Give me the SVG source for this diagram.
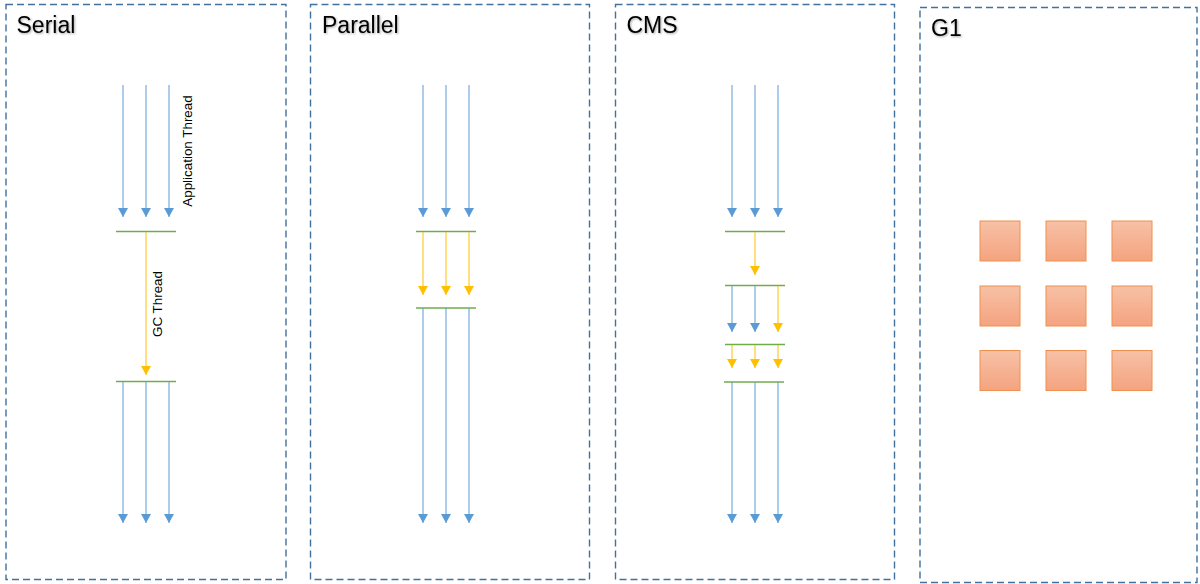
<svg xmlns="http://www.w3.org/2000/svg" width="1200" height="584" viewBox="0 0 1200 584">
<style>
.panel{fill:#fff;stroke:#41719c;stroke-width:1.4;stroke-dasharray:7 4}
.title{font-family:"Liberation Sans",Arial,sans-serif;font-size:23px;fill:#000}
.lbl{font-family:"Liberation Sans",Arial,sans-serif;font-size:13.4px;fill:#000}
.app{stroke:#5b9bd5;stroke-width:1;fill:none;marker-end:url(#ab)}
.gc{stroke:#ffc000;stroke-width:1;fill:none;marker-end:url(#ay)}
.bar{stroke:#70ad47;stroke-width:1.5}
.reg{fill:url(#rg);stroke:#f0904f;stroke-width:1}
</style>
<defs>
<marker id="ab" markerUnits="userSpaceOnUse" markerWidth="11" markerHeight="11" viewBox="0 0 11 11" refX="9" refY="5.5" orient="auto">
<path d="M0,0.5 L9,5.5 L0,10.5 Z" fill="#5b9bd5"/>
</marker>
<marker id="ay" markerUnits="userSpaceOnUse" markerWidth="11" markerHeight="11" viewBox="0 0 11 11" refX="9" refY="5.5" orient="auto">
<path d="M0,0.5 L9,5.5 L0,10.5 Z" fill="#ffc000"/>
</marker>
<linearGradient id="rg" x1="0" y1="0" x2="0" y2="1">
<stop offset="0" stop-color="#f7c1a6"/>
<stop offset="1" stop-color="#f4a37f"/>
</linearGradient>
<filter id="sh" x="-10%" y="-20%" width="130%" height="150%">
<feDropShadow dx="1" dy="1" stdDeviation="0.8" flood-color="#000" flood-opacity="0.35"/>
</filter>
</defs>

<g id="serial">
<rect class="panel" x="6" y="4.5" width="280" height="575"/>
<text class="title" x="16.5" y="32.5" filter="url(#sh)">Serial</text>
</g>
<g id="parallel">
<rect class="panel" x="310.5" y="4.5" width="279" height="575"/>
<text class="title" x="322" y="32.5" filter="url(#sh)">Parallel</text>
</g>
<g id="cms">
<rect class="panel" x="615.5" y="4.5" width="279" height="575"/>
<text class="title" x="626.5" y="32.5" filter="url(#sh)">CMS</text>
</g>
<g id="g1">
<rect class="panel" x="920" y="7.5" width="277" height="575"/>
<text class="title" x="931" y="35.5" filter="url(#sh)">G1</text>
</g>

<g id="connectors">
<!-- Serial -->
<line class="app" x1="123" y1="85" x2="123" y2="217"/>
<line class="app" x1="146" y1="85" x2="146" y2="217"/>
<line class="app" x1="169" y1="85" x2="169" y2="217"/>
<line class="bar" x1="116" y1="231.5" x2="176" y2="231.5"/>
<line class="gc" x1="146" y1="232" x2="146" y2="375"/>
<line class="bar" x1="116" y1="381.5" x2="176" y2="381.5"/>
<line class="app" x1="123" y1="382" x2="123" y2="523"/>
<line class="app" x1="146" y1="382" x2="146" y2="523"/>
<line class="app" x1="169" y1="382" x2="169" y2="523"/>
<!-- Parallel -->
<line class="app" x1="423" y1="85" x2="423" y2="217"/>
<line class="app" x1="446" y1="85" x2="446" y2="217"/>
<line class="app" x1="469" y1="85" x2="469" y2="217"/>
<line class="bar" x1="416" y1="231.5" x2="476" y2="231.5"/>
<line class="gc" x1="423" y1="232" x2="423" y2="295"/>
<line class="gc" x1="446" y1="232" x2="446" y2="295"/>
<line class="gc" x1="469" y1="232" x2="469" y2="295"/>
<line class="bar" x1="416" y1="308" x2="476" y2="308"/>
<line class="app" x1="423" y1="308" x2="423" y2="523"/>
<line class="app" x1="446" y1="308" x2="446" y2="523"/>
<line class="app" x1="469" y1="308" x2="469" y2="523"/>
<!-- CMS -->
<line class="app" x1="732" y1="85" x2="732" y2="217"/>
<line class="app" x1="755" y1="85" x2="755" y2="217"/>
<line class="app" x1="778" y1="85" x2="778" y2="217"/>
<line class="bar" x1="725" y1="231.5" x2="785" y2="231.5"/>
<line class="gc" x1="755" y1="232" x2="755" y2="275"/>
<line class="bar" x1="725" y1="285.5" x2="785" y2="285.5"/>
<line class="app" x1="732" y1="286" x2="732" y2="332"/>
<line class="app" x1="755" y1="286" x2="755" y2="332"/>
<line class="gc" x1="778" y1="286" x2="778" y2="332"/>
<line class="bar" x1="725" y1="344.5" x2="785" y2="344.5"/>
<line class="gc" x1="732" y1="345" x2="732" y2="368"/>
<line class="gc" x1="755" y1="345" x2="755" y2="368"/>
<line class="gc" x1="778" y1="345" x2="778" y2="368"/>
<line class="bar" x1="724" y1="382" x2="784" y2="382"/>
<line class="app" x1="732" y1="382" x2="732" y2="523"/>
<line class="app" x1="755" y1="382" x2="755" y2="523"/>
<line class="app" x1="778" y1="382" x2="778" y2="523"/>
</g>

<g id="labels">
<text class="lbl" transform="translate(192,151) rotate(-90)" text-anchor="middle">Application Thread</text>
<text class="lbl" transform="translate(161.5,304) rotate(-90)" text-anchor="middle">GC Thread</text>
</g>

<g id="regions">
<rect class="reg" x="980" y="221" width="40" height="40"/>
<rect class="reg" x="1046" y="221" width="40" height="40"/>
<rect class="reg" x="1112" y="221" width="40" height="40"/>
<rect class="reg" x="980" y="286" width="40" height="40"/>
<rect class="reg" x="1046" y="286" width="40" height="40"/>
<rect class="reg" x="1112" y="286" width="40" height="40"/>
<rect class="reg" x="980" y="350.5" width="40" height="40"/>
<rect class="reg" x="1046" y="350.5" width="40" height="40"/>
<rect class="reg" x="1112" y="350.5" width="40" height="40"/>
</g>
</svg>
